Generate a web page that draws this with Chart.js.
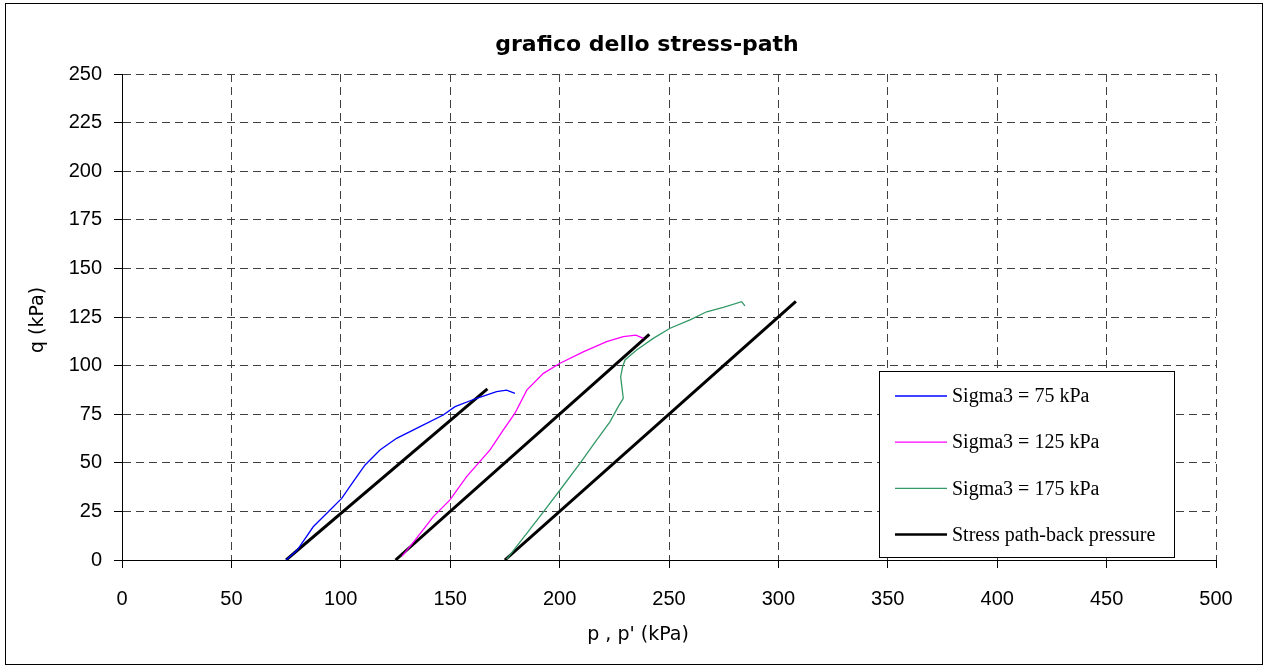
<!DOCTYPE html>
<html>
<head>
<meta charset="utf-8">
<title>grafico dello stress-path</title>
<script src="https://cdn.jsdelivr.net/npm/chart.js@4.4.1/dist/chart.umd.min.js"></script>
<style>
  body { margin: 0; background: #fff; }
  canvas { display: block; }
</style>
</head>
<body>
<canvas id="stress" width="1266" height="668"></canvas>
<script>
// valori: p (kPa) e q (kPa)
var p75 = [75, 80, 87.4, 95.1, 100.4, 105.7, 111.1, 117.9, 125.5, 136.2, 146.8, 152.2, 162.1, 171.2, 175.8, 179.6];
var q75 = [0, 5, 17.1, 25.7, 31.7, 40.3, 48.9, 56.6, 62.6, 68.6, 74.6, 78.9, 83.2, 86.6, 87.4, 85.7];

var p125 = [128, 132.4, 142.3, 149.9, 157.5, 168.2, 174.3, 179.6, 185, 192.6, 200.2, 210.8, 221.5, 229.1, 234.9, 238.3];
var q125 = [2, 8, 22.3, 30.9, 42.9, 56.6, 66.9, 75.5, 87.4, 96, 101.2, 107.1, 112.3, 114.9, 115.7, 114];

var p175 = [175.8, 185, 192.6, 200.2, 209.3, 216.9, 223, 226.8, 229.1, 227.9, 228.8, 229.9, 235.2, 242.8, 250.5, 259.6, 267.2, 274.8, 283.2, 284.7];
var q175 = [0.4, 13.7, 24.8, 36, 49.7, 61.7, 71.1, 78.9, 83.2, 94.3, 99.4, 102.9, 108, 114, 119.2, 123.5, 127.7, 130, 132.9, 130.7];

// stress path con back pressure
var pBack1 = [75, 167];
var qBack1 = [0, 88];
var pBack2 = [125, 241];
var qBack2 = [0, 116];
var pBack3 = [175, 308];
var qBack3 = [0, 133];

var xTicks = [0, 50, 100, 150, 200, 250, 300, 350, 400, 450, 500];
var yTicks = [0, 25, 50, 75, 100, 125, 150, 175, 200, 225, 250];

var titolo = 'grafico dello stress-path';
var titoloX = "p , p' (kPa)";
var titoloY = 'q (kPa)';

function punti(ps, qs) {
    return ps.map(function (p, i) { return { x: p, y: qs[i] }; });
}

function serie(label, ps, qs, colore, spessore) {
    return {
        label: label,
        data: punti(ps, qs),
        borderColor: colore,
        backgroundColor: colore,
        borderWidth: spessore,
        showLine: true,
        pointRadius: 0,
        tension: 0,
        fill: false
    };
}

// cornice, titoli e legenda disegnati sul canvas
var cornice = {
    id: 'cornice',
    beforeDraw: function (chart) {
        var ctx = chart.ctx;
        ctx.save();
        ctx.fillStyle = '#fff';
        ctx.fillRect(0, 0, chart.width, chart.height);
        ctx.restore();
    },
    afterDraw: function (chart) {
        var ctx = chart.ctx;
        var area = chart.chartArea;
        var centro = area.left + area.width / 2;
        ctx.save();
        ctx.strokeStyle = '#000';
        ctx.lineWidth = 1;
        ctx.strokeRect(5.5, 3.5, chart.width - 9, chart.height - 7);

        ctx.fillStyle = '#000';
        ctx.textAlign = 'center';
        ctx.textBaseline = 'middle';
        ctx.font = 'bold 22px "DejaVu Sans"';
        ctx.fillText(titolo, centro - 22, 45);

        ctx.font = '19px "DejaVu Sans"';
        ctx.fillText(titoloX, centro - 31, 635);
        ctx.save();
        ctx.translate(38, (area.top + area.bottom) / 2 + 3);
        ctx.rotate(-Math.PI / 2);
        ctx.fillText(titoloY, 0, 0);
        ctx.restore();

        // legenda
        var bx = area.right - 336.5, by = area.bottom - 188.5, bw = 295, bh = 186;
        ctx.fillStyle = '#fff';
        ctx.fillRect(bx, by, bw, bh);
        ctx.strokeStyle = '#000';
        ctx.strokeRect(bx, by, bw, bh);
        var voci = chart.data.datasets.filter(function (d) { return d.label; });
        ctx.font = '20px "Liberation Serif"';
        ctx.textAlign = 'left';
        voci.forEach(function (d, i) {
            var y = by + 24.5 + i * 46.2;
            ctx.strokeStyle = d.borderColor;
            ctx.lineWidth = Math.min(d.borderWidth, 2.5);
            ctx.beginPath();
            ctx.moveTo(bx + 15.5, y);
            ctx.lineTo(bx + 67.5, y);
            ctx.stroke();
            ctx.fillStyle = '#000';
            ctx.fillText(d.label, bx + 72.5, y + 1);
        });
        ctx.restore();
    }
};

window.onload = function () {
    var context = document.querySelector('#stress').getContext('2d');
    new Chart(context, {
        type: 'scatter',
        data: {
            datasets: [
                serie('Sigma3 = 75 kPa', p75, q75, '#0000ff', 1.3),
                serie('Sigma3 = 125 kPa', p125, q125, '#ff00ff', 1.3),
                serie('Sigma3 = 175 kPa', p175, q175, '#339966', 1.3),
                serie('Stress path-back pressure', pBack1, qBack1, '#000000', 3),
                serie('', pBack2, qBack2, '#000000', 3),
                serie('', pBack3, qBack3, '#000000', 3)
            ]
        },
        options: {
            responsive: false,
            animation: false,
            layout: { padding: { top: 74, right: 50, left: 0, bottom: 0 } },
            plugins: {
                legend: { display: false },
                title: { display: false },
                tooltip: { enabled: false }
            },
            scales: {
                x: {
                    type: 'linear',
                    min: 0,
                    max: 500,
                    afterBuildTicks: function (scale) {
                        scale.ticks = xTicks.map(function (v) { return { value: v }; });
                    },
                    afterFit: function (scale) { scale.height = 108; },
                    ticks: {
                        color: '#000',
                        padding: 19,
                        font: { family: '"Liberation Sans"', size: 20 }
                    },
                    grid: {
                        color: '#404040',
                        lineWidth: 1,
                        tickLength: 8,
                        tickColor: '#000',
                        tickBorderDash: []
                    },
                    border: { display: true, color: '#000', width: 1, dash: [8, 5] }
                },
                y: {
                    type: 'linear',
                    min: 0,
                    max: 250,
                    afterBuildTicks: function (scale) {
                        scale.ticks = yTicks.map(function (v) { return { value: v }; });
                    },
                    afterFit: function (scale) { scale.width = 122; },
                    ticks: {
                        color: '#000',
                        padding: 12,
                        font: { family: '"Liberation Sans"', size: 20 }
                    },
                    grid: {
                        color: '#404040',
                        lineWidth: 1,
                        tickLength: 8,
                        tickColor: '#000',
                        tickBorderDash: []
                    },
                    border: { display: true, color: '#000', width: 1, dash: [8, 5] }
                }
            }
        },
        plugins: [cornice]
    });
};
</script>
</body>
</html>
